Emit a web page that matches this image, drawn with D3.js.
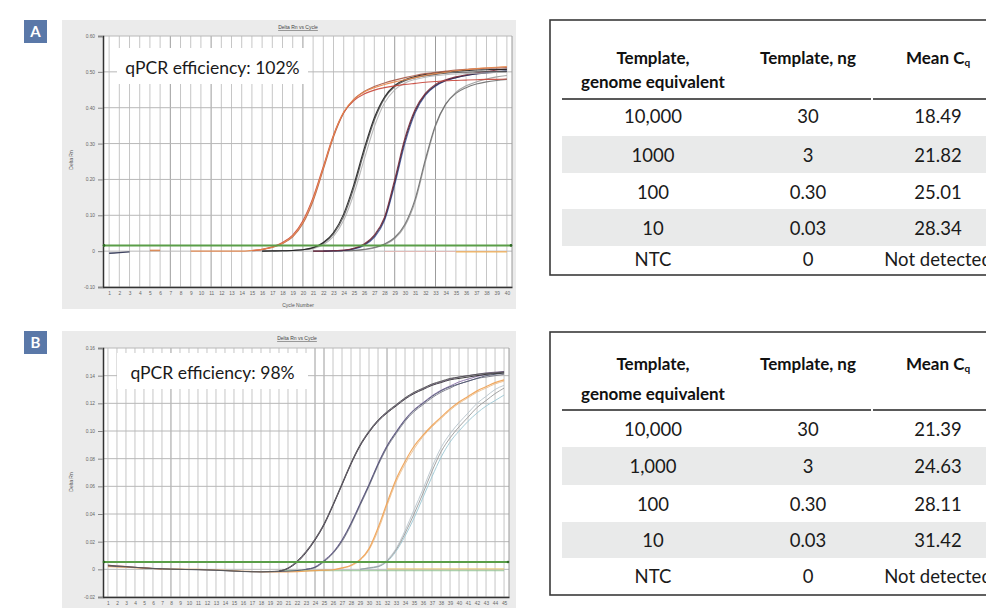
<!DOCTYPE html>
<html><head><meta charset="utf-8">
<script src="https://cdn.jsdelivr.net/npm/d3@7"></script>
<style>body{margin:0;background:#fff}svg{display:block}</style>
</head><body>
<svg id="c" width="986" height="608"></svg>
<script>
const _ = null;
// ---------- DATA ----------
const cyclesA = [1,2,3,4,5,6,7,8,9,10,11,12,13,14,15,16,17,18,19,20,21,22,23,24,25,26,27,28,29,30,31,32,33,34,35,36,37,38,39,40];
const cyclesB = [1,2,3,4,5,6,7,8,9,10,11,12,13,14,15,16,17,18,19,20,21,22,23,24,25,26,27,28,29,30,31,32,33,34,35,36,37,38,39,40,41,42,43,44,45];
const yTicksA = [-0.1,0,0.1,0.2,0.3,0.4,0.5,0.6];
const yTickLabelsA = ["-0.10","0","0.10","0.20","0.30","0.40","0.50","0.60"];
const yTicksB = [-0.02,0,0.02,0.04,0.06,0.08,0.10,0.12,0.14,0.16];
const yTickLabelsB = ["-0.02","0","0.02","0.04","0.06","0.08","0.10","0.12","0.14","0.16"];
const thresholdA = 0.016;
const thresholdB = 0.0053;
const efficiencyA = "qPCR efficiency: 102%";
const efficiencyB = "qPCR efficiency: 98%";

// Panel A amplification curves (Delta Rn per cycle 1..40)
const A_G1a = [_,_,_,_,_,_,_,_,0,0,0,0,0,0,0.002,0.005,0.011,0.022,0.042,0.080,0.145,0.232,0.322,0.388,0.424,0.444,0.456,0.465,0.472,0.478,0.484,0.490,0.495,0.499,0.503,0.506,0.509,0.511,0.513,0.515];
const A_G1b = [_,_,_,_,_,_,_,_,_,_,_,_,_,_,0.002,0.005,0.012,0.024,0.045,0.085,0.150,0.236,0.324,0.387,0.420,0.438,0.449,0.456,0.461,0.465,0.468,0.471,0.473,0.475,0.476,0.477,0.478,0.479,0.479,0.480];
const A_G1c = [_,_,_,_,_,_,_,_,_,_,_,_,_,_,0.001,0.004,0.010,0.021,0.040,0.077,0.140,0.228,0.318,0.385,0.423,0.445,0.459,0.469,0.477,0.484,0.490,0.495,0.499,0.502,0.505,0.507,0.509,0.510,0.511,0.512];
const A_G2a = [_,_,_,_,_,_,_,_,_,_,_,_,_,_,_,0.000,0.001,0.001,0.002,0.004,0.010,0.024,0.052,0.104,0.186,0.285,0.372,0.430,0.462,0.478,0.487,0.493,0.497,0.500,0.502,0.504,0.505,0.506,0.507,0.507];
const A_G2b = [_,_,_,_,_,_,_,_,_,_,_,_,_,_,_,0.000,0.000,0.001,0.002,0.004,0.009,0.022,0.048,0.097,0.177,0.276,0.365,0.426,0.459,0.475,0.484,0.489,0.493,0.496,0.498,0.499,0.500,0.501,0.501,0.502];
const A_G2c = [_,_,_,_,_,_,_,_,_,_,_,_,_,_,_,_,0.000,0.001,0.002,0.003,0.007,0.018,0.041,0.086,0.160,0.255,0.347,0.413,0.450,0.469,0.479,0.485,0.489,0.492,0.494,0.495,0.496,0.497,0.498,0.498];
const A_G3a = [_,_,_,_,_,_,_,_,_,_,_,_,_,_,_,_,_,_,_,_,0.000,0.000,0.001,0.003,0.008,0.020,0.045,0.095,0.200,0.315,0.395,0.440,0.465,0.478,0.486,0.492,0.497,0.501,0.505,0.508];
const A_G3b = [_,_,_,_,_,_,_,_,_,_,_,_,_,_,_,_,_,_,_,_,0.000,0.000,0.001,0.002,0.007,0.018,0.042,0.090,0.192,0.308,0.390,0.437,0.462,0.476,0.484,0.490,0.494,0.497,0.499,0.501];
const A_G3c = [_,_,_,_,_,_,_,_,_,_,_,_,_,_,_,_,_,_,_,_,_,0.000,0.001,0.002,0.006,0.016,0.038,0.085,0.185,0.300,0.385,0.434,0.460,0.475,0.484,0.490,0.495,0.498,0.501,0.503];
const A_G4a = [_,_,_,_,_,_,_,_,_,_,_,_,_,_,_,_,_,_,_,_,_,0.000,0.000,0.001,0.002,0.005,0.010,0.020,0.038,0.075,0.145,0.255,0.352,0.410,0.440,0.456,0.466,0.472,0.476,0.479];
const A_G4b = [_,_,_,_,_,_,_,_,_,_,_,_,_,_,_,_,_,_,_,_,_,_,0.000,0.001,0.002,0.004,0.009,0.018,0.035,0.070,0.138,0.248,0.348,0.410,0.443,0.461,0.472,0.480,0.486,0.490];
const A_NTC1 = [-0.006,-0.004,-0.002,_,_,_,_,_,_,_,_,_,_,_,_,_,_,_,_,_,_,_,_,_,_,_,_,_,_,_,_,_,_,_,_,_,_,_,_,_];
const A_NTC2 = [_,_,_,_,0.002,0.002,_,_,_,_,_,_,_,_,_,_,_,_,_,_,_,_,_,_,_,_,_,_,_,_,_,_,_,_,_,_,_,_,_,_];
const A_NTC3 = [_,_,_,_,_,_,_,_,_,_,_,_,_,_,_,_,_,_,_,_,_,_,_,_,_,_,_,-0.001,-0.001,-0.001,-0.001,-0.001,-0.001,-0.001,-0.001,-0.001,-0.001,-0.001,-0.001,-0.001];
const A_NTC4 = [_,_,_,_,_,_,_,_,_,_,_,_,_,_,_,_,_,_,_,_,_,_,_,_,_,_,_,_,_,_,_,_,_,_,-0.002,-0.002,-0.002,-0.002,-0.002,-0.002];

// Panel B amplification curves (Delta Rn per cycle 1..45)
const B_G1a = [0.003,0.0025,0.002,0.0015,0.001,0.0006,0.0003,0.0001,0.0000,-0.0001,-0.0002,-0.0004,-0.0006,-0.0009,-0.0012,-0.0015,-0.0017,-0.0018,-0.0016,-0.0012,0.0010,0.006,0.013,0.022,0.033,0.047,0.062,0.077,0.090,0.100,0.108,0.114,0.119,0.124,0.128,0.131,0.134,0.136,0.138,0.139,0.140,0.141,0.1415,0.142,0.1425];
const B_G1b = [_,_,_,_,_,_,_,_,_,_,_,_,_,_,_,_,_,_,_,-0.0012,0.0008,0.0055,0.0125,0.0215,0.0325,0.0465,0.0615,0.0765,0.0895,0.0995,0.1075,0.1135,0.1185,0.1235,0.1275,0.1305,0.1335,0.1355,0.1375,0.139,0.140,0.141,0.142,0.1425,0.143];
const B_G1c = [_,_,_,_,_,_,_,_,_,_,_,_,_,_,_,_,_,_,_,-0.0014,0.0006,0.005,0.012,0.021,0.032,0.046,0.061,0.076,0.089,0.099,0.107,0.113,0.118,0.123,0.127,0.130,0.133,0.135,0.137,0.138,0.139,0.140,0.141,0.1415,0.142];
const B_G2a = [0.0025,0.002,0.0018,0.0014,0.001,0.0007,0.0004,0.0002,0.0000,-0.0002,-0.0003,-0.0005,-0.0007,-0.0010,-0.0013,-0.0016,-0.0018,-0.0019,-0.0018,-0.0016,-0.0013,-0.0009,0.000,0.0015,0.006,0.012,0.021,0.033,0.047,0.061,0.076,0.089,0.099,0.108,0.115,0.120,0.125,0.129,0.132,0.134,0.136,0.138,0.140,0.141,0.142];
const B_G2b = [_,_,_,_,_,_,_,_,_,_,_,_,_,_,_,_,_,_,_,_,_,_,0.000,0.0012,0.0055,0.0115,0.020,0.032,0.046,0.060,0.075,0.088,0.098,0.107,0.114,0.119,0.124,0.128,0.131,0.134,0.136,0.138,0.139,0.140,0.141];
const B_G2c = [_,_,_,_,_,_,_,_,_,_,_,_,_,_,_,_,_,_,_,_,_,_,0.000,0.0018,0.0065,0.0125,0.0215,0.0335,0.0475,0.0615,0.0765,0.0895,0.0995,0.1085,0.1155,0.1205,0.1255,0.1295,0.1325,0.1355,0.1375,0.1395,0.141,0.142,0.143];
const B_G3a = [0.002,0.0018,0.0015,0.0012,0.0009,0.0006,0.0004,0.0002,0.0001,0.0000,-0.0001,-0.0003,-0.0005,-0.0008,-0.0011,-0.0014,-0.0016,-0.0018,-0.0019,-0.0019,-0.0018,-0.0016,-0.0013,-0.0010,-0.0006,-0.0003,0.001,0.003,0.007,0.015,0.030,0.048,0.065,0.078,0.089,0.097,0.104,0.110,0.116,0.121,0.125,0.129,0.132,0.135,0.137];
const B_G3b = [_,_,_,_,_,_,_,_,_,_,_,_,_,_,_,_,_,_,_,_,_,_,_,_,_,-0.0005,0.0008,0.0025,0.0065,0.014,0.028,0.046,0.063,0.076,0.087,0.096,0.103,0.109,0.115,0.120,0.124,0.128,0.131,0.134,0.136];
const B_G4a = [_,_,_,_,_,_,_,_,_,_,_,_,_,_,_,_,_,_,_,_,_,_,_,_,_,_,_,_,0.000,0.001,0.002,0.006,0.014,0.026,0.040,0.055,0.071,0.085,0.095,0.103,0.110,0.117,0.122,0.127,0.131];
const B_G4b = [_,_,_,_,_,_,_,_,_,_,_,_,_,_,_,_,_,_,_,_,_,_,_,_,_,_,_,_,0.000,0.0008,0.0018,0.0055,0.013,0.024,0.037,0.052,0.067,0.081,0.092,0.100,0.107,0.113,0.118,0.122,0.126];
const B_G4c = [_,_,_,_,_,_,_,_,_,_,_,_,_,_,_,_,_,_,_,_,_,_,_,_,_,_,_,_,0.000,0.0012,0.0025,0.0068,0.015,0.028,0.043,0.058,0.074,0.088,0.098,0.106,0.113,0.120,0.125,0.130,0.133];
const B_NTC1 = [_,_,_,_,_,_,_,_,_,_,_,_,_,_,_,_,_,_,_,-0.0010,-0.0010,-0.0010,-0.0010,-0.0010,-0.0010,-0.0010,-0.0010,-0.0010,-0.0010,-0.0010,-0.0010,-0.0010,-0.0010,-0.0010,-0.0010,-0.0010,-0.0010,-0.0010,-0.0010,-0.0010,-0.0010,-0.0010,-0.0010,-0.0010,-0.0010];
const B_NTC2 = [_,_,_,_,_,_,_,_,_,_,_,_,_,_,_,_,_,_,_,_,_,_,_,_,_,_,_,_,_,_,_,0.0003,0.0003,0.0003,0.0003,0.0003,0.0003,0.0003,0.0003,0.0003,0.0003,0.0003,0.0003,0.0003,0.0003];
const B_NTC3 = [0.0028,0.0024,0.0019,0.0014,0.0010,0.0006,0.0003,_,_,_,_,_,_,_,_,_,_,_,_,_,_,_,_,_,_,_,_,_,_,_,_,_,_,_,_,_,_,_,_,_,_,_,_,_,_];

// Tables
const headerA = ["Template,", "genome equivalent", "Template, ng", "Mean C", "q"];
const genomeEqA = ["10,000","1000","100","10","NTC"];
const ngA = ["30","3","0.30","0.03","0"];
const cqA = ["18.49","21.82","25.01","28.34","Not detected"];
const genomeEqB = ["10,000","1,000","100","10","NTC"];
const ngB = ["30","3","0.30","0.03","0"];
const cqB = ["21.39","24.63","28.11","31.42","Not detected"];

// ---------- STYLE / LAYOUT ----------
const svg = d3.select("#c");
svg.append("rect").attr("width",986).attr("height",608).attr("fill","#fff");

const seriesA = [
  {v:A_NTC3,c:"#e4b8b4",w:1},{v:A_NTC4,c:"#f0b050",w:1.2},{v:A_NTC1,c:"#2a3050",w:1.4},{v:A_NTC2,c:"#d9824a",w:1.6},
  {v:A_G4b,c:"#9a9a9a",w:1.1},{v:A_G4a,c:"#6e6e6e",w:1.1},
  {v:A_G3c,c:"#4a5aa0",w:1.1},{v:A_G3b,c:"#2a2a48",w:1.1},{v:A_G3a,c:"#7a2a3a",w:1.1},
  {v:A_G2c,c:"#b4b4b4",w:1.1},{v:A_G2b,c:"#555555",w:1.1},{v:A_G2a,c:"#1e1e1e",w:1.1},
  {v:A_G1c,c:"#a85a48",w:1.1},{v:A_G1b,c:"#c8463a",w:1.1},{v:A_G1a,c:"#e8874a",w:1.1}
];
const seriesB = [
  {v:B_NTC1,c:"#8cc08c",w:1},{v:B_NTC2,c:"#e8c860",w:1},{v:B_NTC3,c:"#d05a4a",w:1.2},
  {v:B_G4c,c:"#b8c4cc",w:1},{v:B_G4b,c:"#9cc8d4",w:1},{v:B_G4a,c:"#9a9a9a",w:1},
  {v:B_G3b,c:"#ecc090",w:1},{v:B_G3a,c:"#f0a050",w:1.2},
  {v:B_G2c,c:"#8a70a8",w:1},{v:B_G2b,c:"#7a7a88",w:1},{v:B_G2a,c:"#4e5470",w:1},
  {v:B_G1c,c:"#2a2a2a",w:1},{v:B_G1b,c:"#6a5a7a",w:1},{v:B_G1a,c:"#555555",w:1}
];

function panelLabel(y, letter){
  svg.append("rect").attr("x",24).attr("y",y).attr("width",23).attr("height",23).attr("fill","#5a78a8");
  svg.append("text").attr("x",35.5).attr("y",y+17).attr("text-anchor","middle")
    .attr("font-family","Lato, sans-serif").attr("font-weight","bold").attr("font-size",15).attr("fill","#fff").text(letter);
}

function drawPanel(p){
  const g = svg.append("g");
  g.append("rect").attr("x",p.bg[0]).attr("y",p.bg[1]).attr("width",p.bg[2]).attr("height",p.bg[3]).attr("fill","#ebebeb");
  const x = d3.scaleLinear().domain(p.xDomain).range([p.l,p.r]);
  const y = d3.scaleLinear().domain(p.yDomain).range([p.b,p.t]);
  g.append("rect").attr("x",p.l).attr("y",p.t).attr("width",p.r-p.l).attr("height",p.b-p.t).attr("fill","#fff");
  g.selectAll(".vg").data(p.cycles).join("line")
    .attr("x1",d=>x(d)).attr("x2",d=>x(d)).attr("y1",p.t).attr("y2",p.b)
    .attr("stroke",d=>p.darkCycles.includes(d)?"#9c9c9c":"#c6c6c6").attr("stroke-width",1);
  g.selectAll(".hg").data(p.yTicks).join("line")
    .attr("x1",p.l).attr("x2",p.r).attr("y1",d=>y(d)).attr("y2",d=>y(d))
    .attr("stroke","#b8b8b8").attr("stroke-width",1);
  g.append("line").attr("x1",p.r).attr("x2",p.r).attr("y1",p.t).attr("y2",p.b).attr("stroke","#9a9a9a");
  const yAxis = d3.axisLeft(y).tickValues(p.yTicks).tickFormat((d,i)=>p.yLabels[i]).tickSize(5).tickPadding(3);
  const ya = g.append("g").attr("transform",`translate(${p.l},0)`).call(yAxis);
  ya.select(".domain").attr("stroke","#333").attr("stroke-width",1.5);
  ya.selectAll(".tick line").attr("stroke","#888");
  ya.selectAll("text").attr("font-size",4.8).attr("fill","#666").attr("font-family","Liberation Sans, sans-serif");
  const xAxis = d3.axisBottom(x).tickValues(p.cycles).tickFormat(d=>d).tickSize(0).tickPadding(5);
  const xa = g.append("g").attr("transform",`translate(0,${p.b})`).call(xAxis);
  xa.select(".domain").attr("stroke","#333").attr("stroke-width",1.5);
  xa.selectAll("text").attr("font-size",4.8).attr("fill","#666").attr("font-family","Liberation Sans, sans-serif");
  const line = d3.line().defined(d=>d[1]!==null).x(d=>x(d[0])).y(d=>y(d[1])).curve(d3.curveMonotoneX);
  p.series.forEach(s=>{
    g.append("path").datum(p.cycles.map((c,i)=>[c,s.v[i]]))
      .attr("d",line).attr("fill","none").attr("stroke",s.c).attr("stroke-width",s.w).attr("opacity",0.9);
  });
  g.append("line").attr("x1",p.l).attr("x2",p.r).attr("y1",y(p.threshold)).attr("y2",y(p.threshold))
    .attr("stroke","#5a9e48").attr("stroke-width",2);
  [p.l+1,p.r-1].forEach(xx=>g.append("circle").attr("cx",xx).attr("cy",y(p.threshold)).attr("r",1.3).attr("fill","#2e6a24"));
  g.append("text").attr("x",p.title[0]).attr("y",p.title[1]).attr("text-anchor","middle")
    .attr("font-size",5).attr("fill","#444").attr("text-decoration","underline")
    .attr("font-family","Liberation Sans, sans-serif").text("Delta Rn vs Cycle");
  if(p.xlab) g.append("text").attr("x",p.xlab[0]).attr("y",p.xlab[1]).attr("text-anchor","middle")
    .attr("font-size",5).attr("fill","#555").attr("font-family","Liberation Sans, sans-serif").text("Cycle Number");
  g.append("text").attr("transform",`translate(${p.ylab[0]},${p.ylab[1]}) rotate(-90)`).attr("text-anchor","middle")
    .attr("font-size",5).attr("fill","#555").attr("font-family","Liberation Sans, sans-serif").text("Delta Rn");
  g.append("rect").attr("x",p.box[0]).attr("y",p.box[1]).attr("width",p.box[2]).attr("height",p.box[3]).attr("fill","#fff");
  g.append("text").attr("x",p.box[0]+p.box[2]/2).attr("y",p.boxBase).attr("text-anchor","middle")
    .attr("font-family","Lato, sans-serif").attr("font-size",17.5).attr("fill","#1a1a1a").text(p.eff);
}

drawPanel({bg:[62,20,454,289], l:103,r:512,t:36,b:287, xDomain:[0.4,40.5], yDomain:[-0.1,0.6],
  cycles:cyclesA, darkCycles:[7,11,20,29,33], yTicks:yTicksA, yLabels:yTickLabelsA, series:seriesA, threshold:thresholdA,
  title:[298,29], xlab:[298,307], ylab:[73,160], box:[117,48,191,36], boxBase:73.5, eff:efficiencyA});
drawPanel({bg:[62,331,454,277], l:103,r:509,t:348,b:597, xDomain:[0.45,45.55], yDomain:[-0.02,0.16],
  cycles:cyclesB, darkCycles:[8,24,25,32], yTicks:yTicksB, yLabels:yTickLabelsB, series:seriesB, threshold:thresholdB,
  title:[297,340], xlab:null, ylab:[73,482], box:[117,353,191,36], boxBase:378.5, eff:efficiencyB});
panelLabel(20,"A");
panelLabel(331,"B");

function drawTable(t){
  const g = svg.append("g");
  const colX = [653, 808, 938];
  t.bands.forEach((b,i)=>{ if(i%2===1) g.append("rect").attr("x",562).attr("y",b[0]).attr("width",430).attr("height",b[1]-b[0]).attr("fill","#e9eaea"); });
  g.append("rect").attr("x",550).attr("y",t.top).attr("width",460).attr("height",t.bottom-t.top)
    .attr("fill","none").attr("stroke","#3a3a3a").attr("stroke-width",1.6);
  g.append("line").attr("x1",562).attr("x2",871).attr("y1",t.hline).attr("y2",t.hline).attr("stroke","#222").attr("stroke-width",1.3);
  g.append("line").attr("x1",873).attr("x2",990).attr("y1",t.hline).attr("y2",t.hline).attr("stroke","#222").attr("stroke-width",1.3);
  const hf = {"font-family":"Lato, sans-serif","font-weight":"bold","font-size":17,"fill":"#111","text-anchor":"middle"};
  const ht = (x,y,s)=>{const e=g.append("text").attr("x",x).attr("y",y); Object.entries(hf).forEach(([k,v])=>e.attr(k,v)); return e.text(s);};
  ht(colX[0],t.h1,headerA[0]);
  ht(colX[0],t.h2,headerA[1]);
  ht(colX[1],t.h1,headerA[2]);
  const m = ht(colX[2],t.h1,"");
  m.append("tspan").text(headerA[3]);
  m.append("tspan").attr("font-size",10).attr("dy",2).text(headerA[4]);
  const cols = [t.c1,t.c2,t.c3];
  cols.forEach((col,ci)=>{
    g.selectAll(null).data(col).join("text")
      .attr("x",colX[ci]).attr("y",(d,i)=>t.centers[i]+6.5).attr("text-anchor","middle")
      .attr("font-family","Lato, sans-serif").attr("font-size",18.5).attr("fill","#1a1a1a").text(d=>d);
  });
}
drawTable({top:20,bottom:275,hline:99,h1:64,h2:88,
  bands:[[99,136],[136,173],[173,209],[209,246],[246,275]], centers:[116,155,192,228,259],
  c1:genomeEqA,c2:ngA,c3:cqA});
drawTable({top:332,bottom:595,hline:410,h1:370,h2:400,
  bands:[[410,447],[447,485],[485,522],[522,558],[558,595]], centers:[429,466,504,540,576],
  c1:genomeEqB,c2:ngB,c3:cqB});
</script></body></html>
